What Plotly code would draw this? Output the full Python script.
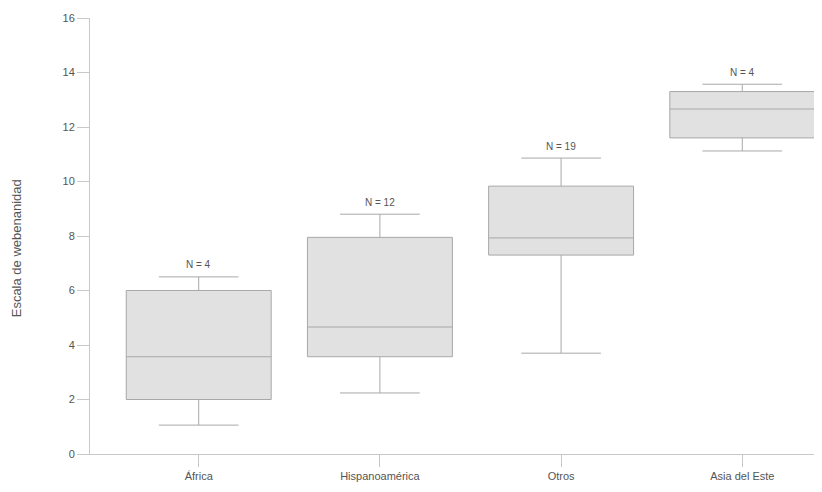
import plotly.graph_objects as go

categories = ["África", "Hispanoamérica", "Otros", "Asia del Este"]
lower = [1.06, 2.24, 3.7, 11.12]
q1 = [2.0, 3.57, 7.3, 11.6]
median = [3.57, 4.66, 7.93, 12.66]
q3 = [6.0, 7.95, 9.83, 13.3]
upper = [6.5, 8.8, 10.86, 13.57]
n_labels = ["N = 4", "N = 12", "N = 19", "N = 4"]
y_ticks = [0, 2, 4, 6, 8, 10, 12, 14, 16]
y_title = "Escala de webenanidad"

fig = go.Figure()
fig.add_trace(go.Box(
    x=categories, q1=q1, median=median, q3=q3,
    lowerfence=lower, upperfence=upper,
    fillcolor="#e1e1e1", line=dict(color="#a8a8a8", width=1),
    whiskerwidth=0.55, width=0.8, boxpoints=False, showlegend=False,
    hoverinfo="skip",
))

for c, u, t in zip(categories, upper, n_labels):
    fig.add_annotation(x=c, y=u, text=t, showarrow=False, yshift=12,
                       font=dict(size=10, color="#555555"))

fig.add_annotation(xref="paper", yref="paper", x=-0.101, y=0.472, text=y_title,
                   textangle=-90, showarrow=False, xanchor="center", yanchor="middle",
                   font=dict(size=13, color="#555555"))

fig.update_layout(
    width=822, height=492,
    margin=dict(l=82, r=8, t=10, b=46),
    paper_bgcolor="white", plot_bgcolor="white",
    font=dict(family="Liberation Sans, Arial, sans-serif", size=11, color="#555555"),
    xaxis=dict(type="category", range=[-0.6, 3.44], showline=True, linecolor="#c8c8c8",
               ticks="outside", ticklen=12, tickcolor="#c8c8c8", showgrid=False,
               tickfont=dict(size=11, color="#555555"), zeroline=False, automargin=False),
    yaxis=dict(range=[0, 16], tickvals=y_ticks, showline=True, linecolor="#c8c8c8",
               ticks="outside", ticklen=12, tickcolor="#c8c8c8", showgrid=False,
               zeroline=False, tickfont=dict(size=11, color="#555555"), automargin=False),
)

fig.write_html("out.html")
